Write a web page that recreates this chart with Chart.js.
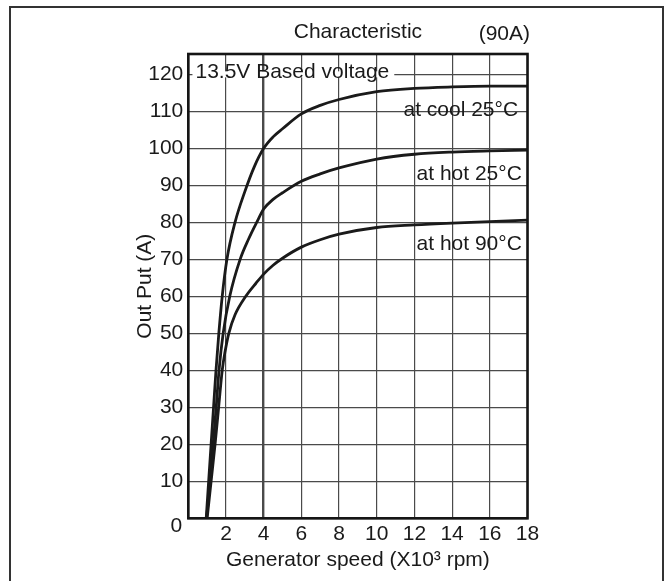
<!DOCTYPE html>
<html>
<head>
<meta charset="utf-8">
<script src="https://cdn.jsdelivr.net/npm/chart.js@4.4.1/dist/chart.umd.min.js"></script>
<style>
  html, body { margin: 0; padding: 0; background: #fff; }
  #wrap { position: relative; width: 669px; height: 581px; overflow: hidden; }
  #frame { position: absolute; left: 9px; top: 6px; width: 655px; height: 600px;
           border: 2px solid #333; box-sizing: border-box; pointer-events: none; }
  canvas { position: absolute; left: 0; top: 0; }
</style>
</head>
<body>
<div id="wrap">
  <canvas id="chart" width="669" height="581"></canvas>
  <div id="frame"></div>
</div>
<script>
// generator output vs speed (x1000 rpm)
const speedCool = [0.95, 1.08, 1.21, 1.34, 1.47, 1.62, 1.8, 2.05, 2.48, 3.0, 3.5, 4, 4.5, 5, 6, 7, 8, 10, 12, 14, 16, 18];
const outCool   = [0, 10, 20, 30, 40, 50, 60, 70, 80, 88.3, 95, 100, 103.1, 105.3, 109.3, 111.6, 113.2, 115.3, 116.2, 116.6, 116.8, 116.8];

const speedHot25 = [0.97, 1.15, 1.32, 1.48, 1.63, 1.85, 2.2, 2.75, 3.2, 3.63, 4, 4.5, 5, 6, 7, 8, 10, 12, 14, 16, 18];
const outHot25   = [0, 10, 20, 30, 40, 50, 60, 70, 75.5, 80, 83.6, 86.2, 88, 91.1, 93.1, 94.7, 97.1, 98.4, 99, 99.3, 99.5];

const speedHot90 = [1.0, 1.21, 1.42, 1.61, 1.8, 1.95, 2.15, 2.48, 3.05, 3.6, 4, 4.5, 5, 6, 7, 8, 10, 12, 14, 16, 18];
const outHot90   = [0, 10, 20, 30, 40, 45, 50, 55, 60, 63.6, 66, 68.4, 70.3, 73.3, 75.3, 76.8, 78.6, 79.3, 79.8, 80.2, 80.6];

const seriesNames = ['at cool 25°C', 'at hot 25°C', 'at hot 90°C'];
const xTicks = [0, 2, 4, 6, 8, 10, 12, 14, 16, 18];
const yTicks = [0, 10, 20, 30, 40, 50, 60, 70, 80, 90, 100, 110, 120];

const FONT = { family: '"Liberation Sans", Arial, Helvetica, sans-serif', size: 21, weight: 'normal' };
const INK = '#1a1a1a';
const GRID = '#4a4a4a';

const toPts = (xs, ys) => xs.map((x, i) => ({ x, y: ys[i] }));

function curve(label, xs, ys) {
  return {
    label,
    data: toPts(xs, ys),
    borderColor: INK,
    borderWidth: 2.8,
    pointRadius: 0,
    fill: false,
    cubicInterpolationMode: 'monotone',
  };
}

// labels drawn inside the plot (right-aligned at x, baseline at y, data units)
const curveLabels = [
  { text: seriesNames[0], x: 17.5, y: 108.7 },
  { text: seriesNames[1], x: 17.7, y: 91.4 },
  { text: seriesNames[2], x: 17.7, y: 72.5 },
];

const annotations = {
  id: 'annotations',
  afterDatasetsDraw(chart) {
    const { ctx, chartArea: a, scales: { x, y } } = chart;
    ctx.save();
    ctx.font = `${FONT.size}px ${FONT.family}`;
    ctx.fillStyle = INK;
    ctx.textBaseline = 'alphabetic';

    // "13.5V Based voltage" sits on the 120 line with a white gap
    const note = '13.5V Based voltage';
    const nx = x.getPixelForValue(0.38), ny = y.getPixelForValue(118.9);
    const w = ctx.measureText(note).width;
    ctx.fillStyle = '#fff';
    ctx.fillRect(nx - 3, y.getPixelForValue(120) - 3, w + 8, 6);
    ctx.fillStyle = INK;
    ctx.textAlign = 'left';
    ctx.fillText(note, nx, ny);

    ctx.textAlign = 'right';
    curveLabels.forEach(l => ctx.fillText(l.text, x.getPixelForValue(l.x), y.getPixelForValue(l.y)));

    // rating in the title row
    ctx.fillText('(90A)', a.right + 2.5, 40);

    // shared origin label
    ctx.textBaseline = 'middle';
    ctx.fillText('0', a.left - 6, a.bottom + 8);

    // plot frame
    ctx.strokeStyle = '#151515';
    ctx.lineWidth = 2.6;
    ctx.strokeRect(a.left, a.top, a.right - a.left, a.bottom - a.top);
    ctx.restore();
  }
};

new Chart(document.getElementById('chart'), {
  type: 'line',
  data: {
    datasets: [
      curve(seriesNames[0], speedCool, outCool),
      curve(seriesNames[1], speedHot25, outHot25),
      curve(seriesNames[2], speedHot90, outHot90),
    ]
  },
  options: {
    responsive: false,
    animation: false,
    events: [],
    layout: { padding: { left: 132.4, right: 141.5, top: 0, bottom: 8.4 } },
    plugins: {
      legend: { display: false },
      tooltip: { enabled: false },
      title: {
        display: true, text: 'Characteristic', fullSize: false,
        color: INK, font: FONT, padding: { top: 20, bottom: 8.8 }
      }
    },
    scales: {
      x: {
        type: 'linear', min: xTicks[0], max: xTicks[xTicks.length - 1],
        afterBuildTicks: s => { s.ticks = xTicks.map(v => ({ value: v })); },
        ticks: { padding: 3, color: INK, font: FONT, maxRotation: 0,
                 callback: v => v === 0 ? '' : v },
        grid: { drawTicks: false, color: GRID,
                lineWidth: c => (c.tick && c.tick.value === 4) ? 2.4 : 1.2 },
        border: { display: false },
        title: { display: true, text: 'Generator speed (X10³ rpm)', color: INK, font: FONT, padding: 0 },
        afterFit: s => { s.height = 54.3; }
      },
      y: {
        type: 'linear', min: 0, max: 125.5,
        afterBuildTicks: s => { s.ticks = yTicks.map(v => ({ value: v })); },
        ticks: { padding: 5, color: INK, font: FONT,
                 callback: v => v === 0 ? '' : v },
        grid: { drawTicks: false, color: GRID, lineWidth: 1.2 },
        border: { display: false },
        title: { display: true, text: 'Out Put (A)', color: INK, font: FONT, padding: 0 },
        afterFit: s => { s.width = 55.9; }
      }
    }
  },
  plugins: [annotations]
});
</script>
</body>
</html>
